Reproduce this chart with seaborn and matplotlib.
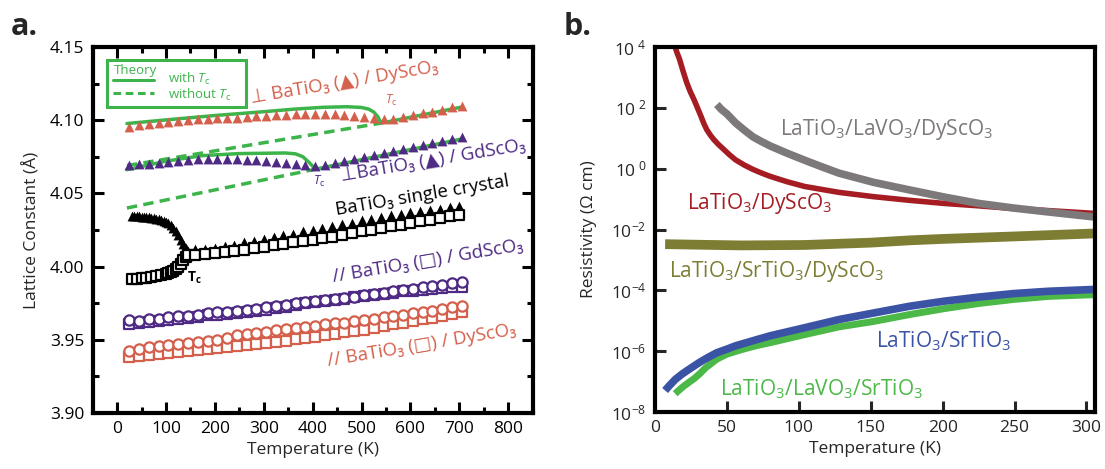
import numpy as np
import pandas as pd
import matplotlib
matplotlib.use('Agg')
import matplotlib.pyplot as plt
import seaborn as sns
from matplotlib.ticker import MultipleLocator, FormatStrFormatter, NullLocator, FuncFormatter
from matplotlib.patches import Rectangle

sns.set_style('ticks')
plt.rcParams['font.family'] = ['Open Sans', 'DejaVu Sans']
plt.rcParams['mathtext.fontset'] = 'custom'
plt.rcParams['mathtext.rm'] = 'Open Sans'
plt.rcParams['mathtext.it'] = 'Open Sans:italic'
plt.rcParams['mathtext.bf'] = 'Open Sans:bold'
plt.rcParams['mathtext.fallback'] = 'stixsans'
plt.rcParams['mathtext.default'] = 'regular'

# %%
# Panel a data: lattice constant (Angstrom) vs temperature (K)
temp_film = [25, 45, 65, 85, 105, 125, 145, 165, 185, 205, 225, 245, 265, 285, 305, 325, 345,
             365, 385, 405, 425, 445, 465, 485, 505, 525, 545, 565, 585, 605, 625, 645, 665, 685, 705]

perp_dyscoo = [4.0955, 4.0965, 4.0975, 4.0982, 4.0990, 4.0995, 4.1000, 4.1005, 4.1008, 4.1012,
               4.1015, 4.1018, 4.1022, 4.1026, 4.1030, 4.1033, 4.1036, 4.1040, 4.1042, 4.1044,
               4.1043, 4.1040, 4.1035, 4.1028, 4.1022, 4.1014, 4.1008, 4.1010, 4.1020, 4.1033,
               4.1046, 4.1058, 4.1072, 4.1088, 4.1100]
perp_gdscoo = [4.0696, 4.0700, 4.0704, 4.0710, 4.0716, 4.0722, 4.0727, 4.0732, 4.0736, 4.0738,
               4.0737, 4.0735, 4.0731, 4.0726, 4.0721, 4.0716, 4.0710, 4.0703, 4.0695, 4.0689,
               4.0694, 4.0707, 4.0721, 4.0734, 4.0747, 4.0760, 4.0774, 4.0788, 4.0801, 4.0815,
               4.0829, 4.0843, 4.0856, 4.0870, 4.0884]
par_gd_circle = [3.9632, 3.9628, 3.9640, 3.9645, 3.9655, 3.9660, 3.9665, 3.9668, 3.9680, 3.9688,
                 3.9690, 3.9695, 3.9705, 3.9712, 3.9722, 3.9728, 3.9735, 3.9750, 3.9758, 3.9765,
                 3.9772, 3.9780, 3.9788, 3.9792, 3.9805, 3.9815, 3.9822, 3.9830, 3.9838, 3.9848,
                 3.9858, 3.9865, 3.9872, 3.9888, 3.9892]
par_gd_square = [3.9605, 3.9612, 3.9620, 3.9628, 3.9635, 3.9640, 3.9650, 3.9658, 3.9668, 3.9672,
                 3.9678, 3.9685, 3.9692, 3.9698, 3.9705, 3.9715, 3.9722, 3.9738, 3.9748, 3.9755,
                 3.9765, 3.9775, 3.9782, 3.9790, 3.9800, 3.9808, 3.9815, 3.9822, 3.9830, 3.9835,
                 3.9842, 3.9848, 3.9852, 3.9858, 3.9860]
par_dy_circle = [3.9425, 3.9440, 3.9448, 3.9455, 3.9462, 3.9472, 3.9480, 3.9488, 3.9495, 3.9502,
                 3.9515, 3.9530, 3.9540, 3.9548, 3.9552, 3.9565, 3.9575, 3.9582, 3.9590, 3.9595,
                 3.9605, 3.9612, 3.9618, 3.9625, 3.9632, 3.9645, 3.9655, 3.9662, 3.9670, 3.9680,
                 3.9690, 3.9700, 3.9710, 3.9722, 3.9733]
par_dy_square = [3.9380, 3.9390, 3.9398, 3.9405, 3.9412, 3.9418, 3.9425, 3.9430, 3.9438, 3.9442,
                 3.9450, 3.9458, 3.9465, 3.9472, 3.9480, 3.9488, 3.9495, 3.9505, 3.9512, 3.9520,
                 3.9530, 3.9540, 3.9550, 3.9560, 3.9570, 3.9580, 3.9592, 3.9605, 3.9615, 3.9628,
                 3.9640, 3.9652, 3.9662, 3.9675, 3.9688]

# BaTiO3 single crystal
temp_xtal = [30, 35, 40, 45, 50, 55, 60, 65, 70, 75, 80, 85, 90, 95, 100, 105, 110, 115, 120,
             125, 130, 135, 140, 145, 160, 180, 200, 220, 240, 260, 280, 300, 320, 340, 360,
             380, 400, 420, 440, 460, 480, 500, 520, 540, 560, 580, 600, 620, 640, 660, 680, 700]
xtal_tri = [4.0345, 4.0345, 4.0344, 4.0343, 4.0342, 4.0341, 4.0340, 4.0338, 4.0335, 4.0332,
            4.0328, 4.0323, 4.0318, 4.0312, 4.0305, 4.0296, 4.0283, 4.0265, 4.0243, 4.0215,
            4.0185, 4.0155, 4.0125, 4.0105, 4.0118, 4.0122, 4.0128, 4.0140, 4.0150, 4.0165,
            4.0175, 4.0190, 4.0200, 4.0215, 4.0225, 4.0240, 4.0250, 4.0265, 4.0275, 4.0290,
            4.0300, 4.0315, 4.0325, 4.0340, 4.0350, 4.0360, 4.0370, 4.0380, 4.0390, 4.0395,
            4.0405, 4.0415]
temp_xtal_sq = [30, 40, 50, 60, 70, 80, 90, 100, 105, 110, 115, 120, 125, 130, 135, 140, 145,
                160, 180, 200, 220, 240, 260, 280, 300, 320, 340, 360, 380, 400, 420, 440, 460,
                480, 500, 520, 540, 560, 580, 600, 620, 640, 660, 680, 700]
xtal_sq = [3.9915, 3.9918, 3.9920, 3.9925, 3.9930, 3.9935, 3.9942, 3.9950, 3.9955, 3.9962,
           3.9972, 3.9985, 4.0000, 4.0020, 4.0045, 4.0068, 4.0080, 4.0082, 4.0088, 4.0092,
           4.0098, 4.0105, 4.0115, 4.0125, 4.0135, 4.0145, 4.0155, 4.0165, 4.0175, 4.0185,
           4.0195, 4.0205, 4.0215, 4.0228, 4.0240, 4.0250, 4.0262, 4.0275, 4.0285, 4.0298,
           4.0310, 4.0320, 4.0332, 4.0345, 4.0355]

# theory curves
th_dy_t = [20, 100, 200, 300, 360, 420, 470, 500, 515, 525, 533, 540, 705]
th_dy_with = [4.0977, 4.1002, 4.1032, 4.1058, 4.1075, 4.1088, 4.1092, 4.1087, 4.1075, 4.1055,
              4.1025, 4.0980, 4.1090]
th_dy_wo_t = [20, 540]
th_dy_without = [4.0690, 4.0980]
th_gd_t = [20, 100, 174, 250, 344, 365, 380, 393, 400, 405, 705]
th_gd_with = [4.0662, 4.0720, 4.0758, 4.0772, 4.0776, 4.0770, 4.0750, 4.0710, 4.0685, 4.0665,
              4.0872]
th_gd_wo_t = [20, 405]
th_gd_without = [4.0400, 4.0665]

# %%
# Panel b data: resistivity (Ohm cm) vs temperature (K)
t_lto_dso = [13.5, 15, 17, 19.5, 22, 24.5, 27, 29.5, 32, 34, 36, 38.5, 41, 44, 48, 52, 56, 62,
             68, 74, 80, 92, 104, 128, 152, 177, 201, 225, 249, 273, 305]
r_lto_dso = [1.2e4, 7.0e3, 4.0e3, 1.6e3, 680, 340, 190, 100, 52, 30, 19, 12.6, 8.9, 6.3, 4.2,
             2.8, 1.95, 1.32, 0.95, 0.72, 0.56, 0.37, 0.26, 0.166, 0.12, 0.091, 0.072, 0.060,
             0.049, 0.042, 0.034]
t_lto_lvo_dso = [43, 46, 50, 56, 62, 68, 74, 80, 92, 104, 116, 128, 152, 177, 201, 225, 249, 273, 305]
r_lto_lvo_dso = [129, 90, 63, 32, 18.6, 11.2, 7.8, 5.6, 3.2, 1.9, 1.15, 0.71, 0.355, 0.20, 0.117,
                 0.072, 0.051, 0.038, 0.026]
t_lto_sto_dso = [7, 30, 60, 104, 150, 177, 200, 249, 305]
r_lto_sto_dso = [3.3e-3, 3.16e-3, 3.0e-3, 3.1e-3, 3.7e-3, 4.4e-3, 4.9e-3, 5.9e-3, 7.4e-3]
t_lto_sto = [7, 10, 14, 19, 25, 31, 37, 43, 50, 56, 68, 80, 104, 128, 152, 177, 201, 225, 249, 273, 305]
r_lto_sto = [5.1e-8, 7.4e-8, 1.17e-7, 1.8e-7, 2.8e-7, 4.3e-7, 6.3e-7, 8.9e-7, 1.17e-6, 1.5e-6,
             2.2e-6, 3.2e-6, 5.9e-6, 1.1e-5, 1.8e-5, 3.0e-5, 4.4e-5, 6.0e-5, 7.8e-5, 9.3e-5, 1.07e-4]
t_lto_lvo_sto = [14, 17, 20, 24, 27, 31, 35, 43, 50, 60, 70, 80, 104, 128, 152, 177, 201, 225, 249, 273, 305]
r_lto_lvo_sto = [4.0e-8, 5.4e-8, 7.1e-8, 9.8e-8, 1.23e-7, 1.8e-7, 2.8e-7, 5.5e-7, 8.0e-7, 1.12e-6,
                 1.5e-6, 1.9e-6, 3.5e-6, 6.3e-6, 9.5e-6, 1.6e-5, 2.5e-5, 3.7e-5, 5.0e-5, 6.3e-5, 7.2e-5]

# colours
c_red = '#d4604c'
c_purple = '#4e2a84'
c_green = '#3cb44a'
b_red = '#a51d23'
b_gray = '#7d7879'
b_olive = '#7d7d34'
b_blue = '#3b53a4'
b_green = '#4cb848'

# %%
fig = plt.figure(figsize=(11.05, 4.69), dpi=100)
ax = fig.add_axes([0.0839, 0.1194, 0.3982, 0.7804])
bx = fig.add_axes([0.5928, 0.1215, 0.3982, 0.7783])

# ---- panel a ----
dash = (0, (3, 1.8))
sns.lineplot(x=th_dy_t, y=th_dy_with, color=c_green, lw=2.5, ax=ax, sort=False, zorder=2)
sns.lineplot(x=th_dy_wo_t, y=th_dy_without, color=c_green, lw=2.5, linestyle=dash, ax=ax, zorder=2)
sns.lineplot(x=th_gd_t, y=th_gd_with, color=c_green, lw=2.5, ax=ax, sort=False, zorder=2)
sns.lineplot(x=th_gd_wo_t, y=th_gd_without, color=c_green, lw=2.5, linestyle=dash, ax=ax, zorder=2)

sns.scatterplot(x=temp_film, y=perp_dyscoo, marker='^', s=50, color=c_red, linewidth=0, ax=ax, zorder=3)
sns.scatterplot(x=temp_film, y=perp_gdscoo, marker='^', s=50, color=c_purple, linewidth=0, ax=ax, zorder=3)
sns.scatterplot(x=temp_xtal, y=xtal_tri, marker='^', s=50, color='black', linewidth=0, ax=ax, zorder=3)
sns.scatterplot(x=temp_xtal_sq, y=xtal_sq, marker='s', s=42, color='white', edgecolor='black',
                linewidth=1.6, ax=ax, zorder=4)
for vals_sq, vals_ci, col in [(par_gd_square, par_gd_circle, c_purple),
                              (par_dy_square, par_dy_circle, c_red)]:
    sns.scatterplot(x=temp_film, y=vals_sq, marker='s', s=42, color='white', edgecolor=col,
                    linewidth=1.6, ax=ax, zorder=3)
    sns.scatterplot(x=temp_film, y=vals_ci, marker='o', s=55, color='white', edgecolor=col,
                    linewidth=1.6, ax=ax, zorder=4)

ax.set_xlim(-50, 850)
ax.set_ylim(3.90, 4.15)
ax.xaxis.set_major_locator(MultipleLocator(100))
ax.xaxis.set_minor_locator(MultipleLocator(50))
ax.yaxis.set_major_locator(MultipleLocator(0.05))
ax.yaxis.set_minor_locator(MultipleLocator(0.025))
ax.yaxis.set_major_formatter(FormatStrFormatter('%.2f'))
ax.tick_params(which='both', direction='in', top=True, right=True, width=2.2, labelsize=12.5,
               pad=6, colors='black')
ax.tick_params(which='major', length=8)
ax.tick_params(which='minor', length=4)
ax.set_xlabel('Temperature (K)', fontsize=12.5, labelpad=3)
ax.set_ylabel('Lattice Constant (Å)', fontsize=12.5, labelpad=7)

lab = dict(rotation=9.5, rotation_mode='anchor', ha='left', va='baseline', fontsize=13.5,
           family=['Open Sans', 'DejaVu Sans'])
ax.text(275, 4.1115, '⊥ BaTiO₃ (▲) / DyScO₃', color=c_red, **lab)
ax.text(458, 4.0584, '⊥BaTiO₃ (▲) / GdScO₃', color=c_purple, **lab)
ax.text(448, 4.0355, 'BaTiO₃ single crystal', color='black', **lab)
ax.text(443, 3.9895, '// BaTiO₃ (□) / GdScO₃', color=c_purple, **lab)
ax.text(431, 3.9318, '// BaTiO₃ (□) / DyScO₃', color=c_red, **lab)
ax.text(560, 4.1135, r'$\mathit{T}_c$', color=c_red, fontsize=9, ha='center', va='center')
ax.text(414, 4.0582, r'$\mathit{T}_c$', color=c_purple, fontsize=9, ha='center', va='center')
ax.text(157, 3.9921, r'$\mathbf{T_c}$', color='black', fontsize=10, ha='center', va='center')

# theory legend box
ax.add_patch(Rectangle((0.0325, 0.836), 0.3155, 0.128, transform=ax.transAxes, fill=False,
                       ec=c_green, lw=2.2, zorder=5))
ax.text(0.047, 0.936, 'Theory', color=c_green, fontsize=9.5, transform=ax.transAxes, va='center')
ax.plot([0.047, 0.140], [0.910, 0.910], color=c_green, lw=2.2, transform=ax.transAxes)
ax.plot([0.047, 0.140], [0.873, 0.873], color=c_green, lw=2.2, linestyle=(0, (2.5, 1.5)),
        transform=ax.transAxes)
ax.text(0.171, 0.914, r'with $\mathit{T}_c$', color=c_green, fontsize=9.5, transform=ax.transAxes,
        va='center')
ax.text(0.171, 0.870, r'without $\mathit{T}_c$', color=c_green, fontsize=9.5,
        transform=ax.transAxes, va='center')

# ---- panel b ----
line_kw = dict(ax=bx, solid_capstyle='butt', solid_joinstyle='round')
sns.lineplot(x=t_lto_dso, y=r_lto_dso, color=b_red, lw=4, **line_kw)
sns.lineplot(x=t_lto_lvo_dso, y=r_lto_lvo_dso, color=b_gray, lw=5.5, **line_kw)
sns.lineplot(x=t_lto_sto_dso, y=r_lto_sto_dso, color=b_olive, lw=7, **line_kw)
sns.lineplot(x=t_lto_lvo_sto, y=r_lto_lvo_sto, color=b_green, lw=5, **line_kw)
sns.lineplot(x=t_lto_sto, y=r_lto_sto, color=b_blue, lw=5.5, **line_kw)


def decade_label(v, pos):
    e = int(round(np.log10(v)))
    # positive exponents keep a gap where the minus sign would sit
    return r'$10^{%d}$' % e if e < 0 else r'$10^{\ %d}$' % e


bx.set_yscale('log')
bx.set_xlim(0, 306)
bx.set_ylim(1e-8, 1e4)
bx.set_yticks([1e-8, 1e-6, 1e-4, 1e-2, 1e0, 1e2, 1e4])
bx.yaxis.set_minor_locator(NullLocator())
bx.yaxis.set_major_formatter(FuncFormatter(decade_label))
bx.xaxis.set_major_locator(MultipleLocator(50))
bx.tick_params(which='both', direction='in', length=8, width=2.2, labelsize=12.5, pad=6)
bx.set_xlabel('Temperature (K)', fontsize=12.5, labelpad=3)
bx.set_ylabel('Resistivity (Ω cm)', fontsize=12.5, labelpad=10)

blab = dict(fontsize=15, ha='left', va='center')
bx.text(87, 19, 'LaTiO$_3$/LaVO$_3$/DyScO$_3$', color=b_gray, **blab)
bx.text(22, 0.074, 'LaTiO$_3$/DyScO$_3$', color=b_red, **blab)
bx.text(10, 4.2e-4, 'LaTiO$_3$/SrTiO$_3$/DyScO$_3$', color=b_olive, **blab)
bx.text(154, 2.2e-6, 'LaTiO$_3$/SrTiO$_3$', color=b_blue, **blab)
bx.text(45, 5.8e-8, 'LaTiO$_3$/LaVO$_3$/SrTiO$_3$', color=b_green, **blab)

for a in (ax, bx):
    for sp in a.spines.values():
        sp.set_linewidth(3)
        sp.set_color('black')

fig.text(0.0097, 1 - 35 / 469, 'a.', fontsize=22, fontweight='bold', va='baseline')
fig.text(0.510, 1 - 35 / 469, 'b.', fontsize=22, fontweight='bold', va='baseline')

fig.savefig('out.png', dpi=100)
